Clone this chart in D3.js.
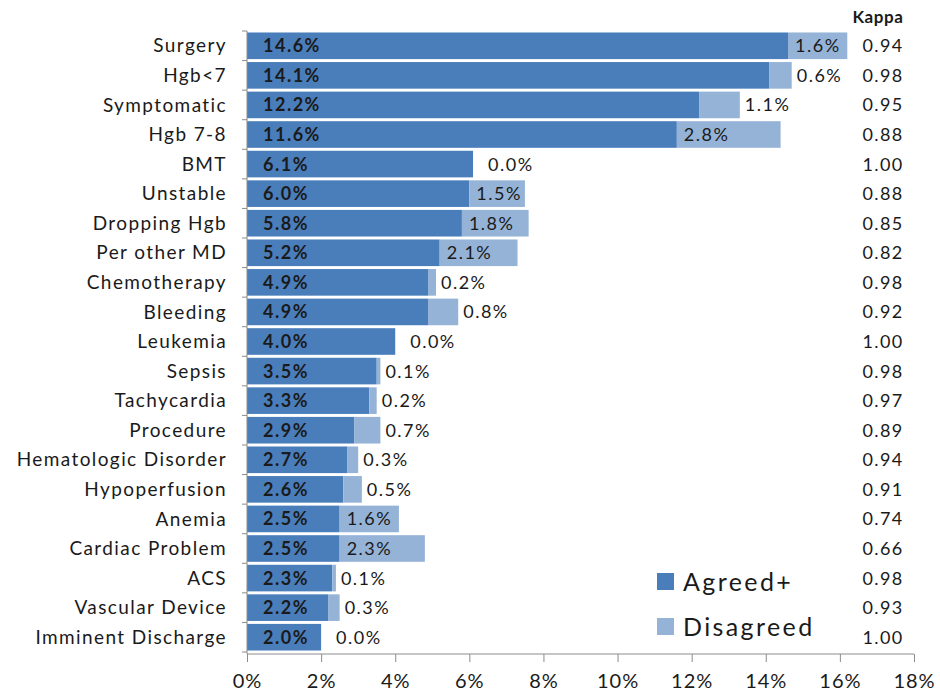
<!DOCTYPE html>
<html>
<head>
<meta charset="utf-8">
<script src="https://cdn.jsdelivr.net/npm/d3@7"></script>
<style>
  body { margin: 0; background: #fff; }
  svg text { font-family: Lato, "Open Sans", sans-serif; fill: #1a1a1a; }
</style>
</head>
<body>
<div id="chart"></div>
<script>
var categories = ["Surgery", "Hgb<7", "Symptomatic", "Hgb 7-8", "BMT", "Unstable", "Dropping Hgb",
    "Per other MD", "Chemotherapy", "Bleeding", "Leukemia", "Sepsis", "Tachycardia", "Procedure",
    "Hematologic Disorder", "Hypoperfusion", "Anemia", "Cardiac Problem", "ACS", "Vascular Device",
    "Imminent Discharge"];
var agreed = [14.6, 14.1, 12.2, 11.6, 6.1, 6.0, 5.8, 5.2, 4.9, 4.9, 4.0, 3.5, 3.3, 2.9, 2.7, 2.6, 2.5, 2.5, 2.3, 2.2, 2.0];
var disagreed = [1.6, 0.6, 1.1, 2.8, 0.0, 1.5, 1.8, 2.1, 0.2, 0.8, 0.0, 0.1, 0.2, 0.7, 0.3, 0.5, 1.6, 2.3, 0.1, 0.3, 0.0];
var kappa = ["0.94", "0.98", "0.95", "0.88", "1.00", "0.88", "0.85", "0.82", "0.98", "0.92", "1.00",
    "0.98", "0.97", "0.89", "0.94", "0.91", "0.74", "0.66", "0.98", "0.93", "1.00"];
var xTicks = [0, 2, 4, 6, 8, 10, 12, 14, 16, 18];
var seriesNames = ["Agreed+", "Disagreed"];

var W = 940, H = 691;
var COL_AGREED = "#4a7ebb", COL_DIS = "#95b3d7";

var svg = d3.select("#chart").append("svg")
    .attr("width", W).attr("height", H);

var x = d3.scaleLinear().domain([0, 18]).range([247, 914]);
var y = d3.scaleBand().domain(categories).range([31, 652]).paddingInner(0.1).paddingOuter(0.05);

var rows = categories.map(function(c, i) {
    return { cat: c, a: agreed[i], d: disagreed[i], k: kappa[i] };
});

// bars
svg.selectAll("rect.agr").data(rows).enter().append("rect")
    .attr("class", "agr")
    .attr("x", x(0))
    .attr("y", d => y(d.cat))
    .attr("width", d => x(d.a) - x(0))
    .attr("height", y.bandwidth())
    .attr("fill", COL_AGREED);

svg.selectAll("rect.dis").data(rows).enter().append("rect")
    .attr("class", "dis")
    .attr("x", d => x(d.a))
    .attr("y", d => y(d.cat))
    .attr("width", d => x(d.a + d.d) - x(d.a))
    .attr("height", y.bandwidth())
    .attr("fill", COL_DIS);

// y axis line + ticks between categories
var yTop = 31, yBot = 652;
svg.append("line").attr("x1", x(0)).attr("x2", x(0)).attr("y1", yTop).attr("y2", 654)
    .attr("stroke", "#8c8c8c").attr("stroke-width", 1);
d3.range(categories.length + 1).forEach(function(i) {
    var yy = yTop + i * (yBot - yTop) / categories.length;
    svg.append("line").attr("x1", x(0) - 5).attr("x2", x(0)).attr("y1", yy).attr("y2", yy)
        .attr("stroke", "#8c8c8c");
});

// category labels
svg.selectAll("text.cat").data(rows).enter().append("text")
    .attr("class", "cat")
    .attr("x", 227)
    .attr("y", d => y(d.cat) + y.bandwidth() / 2)
    .attr("dy", "0.35em")
    .attr("text-anchor", "end")
    .style("font-size", "19px")
    .style("letter-spacing", "1.4px")
    .text(d => d.cat);

// agreed labels
svg.selectAll("text.alab").data(rows).enter().append("text")
    .attr("class", "alab")
    .attr("x", x(0) + 16)
    .attr("y", d => y(d.cat) + y.bandwidth() / 2)
    .attr("dy", "0.36em")
    .style("font-size", "18px")
    .style("font-weight", "bold")
    .style("letter-spacing", "1.5px")
    .text(d => d.a.toFixed(1) + "%");

// disagreed labels: inside the light segment when wide, otherwise just after it
svg.selectAll("text.dlab").data(rows).enter().append("text")
    .attr("class", "dlab")
    .attr("x", d => d.d >= 1.2 ? x(d.a) + 7 : x(d.a + d.d) + 5 + (d.d === 0 ? 10 : 0))
    .attr("y", d => y(d.cat) + y.bandwidth() / 2)
    .attr("dy", "0.36em")
    .style("font-size", "18px")
    .style("letter-spacing", "1.5px")
    .text(d => d.d.toFixed(1) + "%");

// kappa column
svg.append("text").attr("x", 878).attr("y", 17).attr("dy", "0.35em")
    .attr("text-anchor", "middle")
    .style("font-size", "17px").style("font-weight", "bold")
    .style("letter-spacing", "0.6px")
    .text("Kappa");
svg.selectAll("text.kap").data(rows).enter().append("text")
    .attr("class", "kap")
    .attr("x", 883)
    .attr("y", d => y(d.cat) + y.bandwidth() / 2)
    .attr("dy", "0.36em")
    .attr("text-anchor", "middle")
    .style("font-size", "18px")
    .style("letter-spacing", "1.3px")
    .text(d => d.k);

// x axis
var xAxis = svg.append("g")
    .attr("transform", "translate(0,654)")
    .call(d3.axisBottom(x).tickValues(xTicks).tickSize(8).tickPadding(14)
        .tickFormat(d => d + "%"));
xAxis.select(".domain").attr("stroke", "#8c8c8c").attr("d", "M" + x(0) + ",0H" + x(18));
xAxis.selectAll(".tick line").attr("stroke", "#8c8c8c");
xAxis.selectAll(".tick text")
    .attr("dy", null)
    .attr("y", 34)
    .style("font-family", "Lato, 'Open Sans', sans-serif")
    .style("font-size", "20px")
    .style("letter-spacing", "1px")
    .attr("fill", "#1a1a1a");

// legend
var legend = svg.append("g");
seriesNames.forEach(function(name, i) {
    var ly = 582 + i * 45;
    legend.append("rect").attr("x", 657).attr("y", ly - 9).attr("width", 17).attr("height", 17)
        .attr("fill", i === 0 ? COL_AGREED : COL_DIS);
    legend.append("text").attr("x", 683).attr("y", ly).attr("dy", "0.35em")
        .style("font-size", "25px")
        .style("letter-spacing", "2.4px")
        .text(name);
});
</script>
</body>
</html>
